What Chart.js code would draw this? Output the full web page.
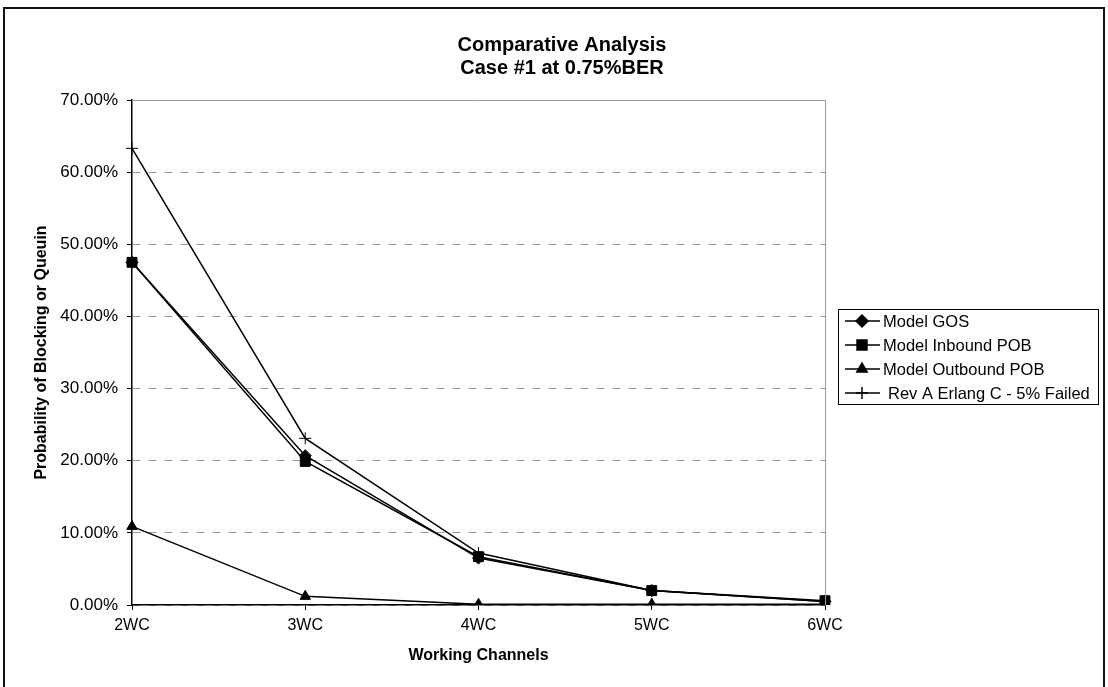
<!DOCTYPE html>
<html>
<head>
<meta charset="utf-8">
<script src="https://cdn.jsdelivr.net/npm/chart.js@4.4.1/dist/chart.umd.min.js"></script>
<style>
  html, body { margin: 0; padding: 0; background: #fff; }
  #wrap { width: 1108px; height: 687px; }
</style>
</head>
<body>
<div id="wrap"><canvas id="chart" width="1108" height="687"></canvas></div>
<script>
// data
const channels = ['2WC', '3WC', '4WC', '5WC', '6WC'];
const modelGos = [47.5, 20.7, 6.5, 2.0, 0.5];
const inboundPob = [47.5, 19.9, 6.7, 2.0, 0.6];
const outboundPob = [10.9, 1.2, 0.1, 0.1, 0.1];
const erlangC = [63.3, 23.1, 7.2, 2.0, 0.5];
const seriesNames = ['Model GOS', 'Model Inbound POB', 'Model Outbound POB', 'Rev A Erlang C - 5% Failed'];
const yMax = 70;
const yStep = 10;

const FONT = "'Liberation Sans', Arial, sans-serif";

function makeSet(label, data, style, radius) {
    return {
        label: label,
        data: data,
        borderColor: '#000',
        backgroundColor: '#000',
        borderWidth: 1.5,
        pointStyle: style,
        pointRadius: radius,
        pointHoverRadius: radius,
        pointBackgroundColor: '#000',
        pointBorderColor: '#000',
        pointBorderWidth: 1,
        tension: 0,
        fill: false
    };
}

// frame, plot border and a legend drawn like the original (line + marker)
const framePlugin = {
    id: 'frame',
    afterDraw(chart) {
        const ctx = chart.ctx;
        const a = chart.chartArea;
        ctx.save();
        // plot area top/right edges
        ctx.strokeStyle = '#9a9a9a';
        ctx.lineWidth = 1;
        ctx.beginPath();
        ctx.moveTo(a.left, a.top + 0.5);
        ctx.lineTo(a.right + 0.5, a.top + 0.5);
        ctx.lineTo(a.right + 0.5, a.bottom);
        ctx.stroke();

        // outer chart border
        ctx.strokeStyle = '#111';
        ctx.lineWidth = 2;
        ctx.strokeRect(4, 8, 1100, 690);

        // legend
        const lx = 838, ly = 309, lw = 260, lh = 95;
        ctx.fillStyle = '#fff';
        ctx.fillRect(lx, ly, lw, lh);
        ctx.strokeStyle = '#000';
        ctx.lineWidth = 1;
        ctx.strokeRect(lx + 0.5, ly + 0.5, lw, lh);
        ctx.font = '16.5px ' + FONT;
        ctx.textBaseline = 'middle';
        ctx.textAlign = 'left';
        chart.data.datasets.forEach((ds, i) => {
            const y = ly + 12 + i * 24;
            ctx.strokeStyle = '#000';
            ctx.lineWidth = 1.5;
            ctx.beginPath();
            ctx.moveTo(845, y);
            ctx.lineTo(880, y);
            ctx.stroke();
            ctx.fillStyle = '#000';
            Chart.helpers.drawPoint(ctx, {
                pointStyle: ds.pointStyle,
                radius: ds.pointRadius,
                borderWidth: 1,
                rotation: 0
            }, 862, y);
            if (ds.pointStyle !== 'cross') ctx.fill();
            ctx.fillText(ds.label, ds.pointStyle === 'cross' ? 888 : 883, y + 1);
        });
        ctx.restore();
    }
};

const ctx = document.getElementById('chart').getContext('2d');
const chart = new Chart(ctx, {
    type: 'line',
    data: {
        labels: channels,
        datasets: [
            makeSet(seriesNames[0], modelGos, 'rectRot', 6),
            makeSet(seriesNames[1], inboundPob, 'rect', 7),
            makeSet(seriesNames[2], outboundPob, 'triangle', 6),
            makeSet(seriesNames[3], erlangC, 'cross', 6)
        ]
    },
    options: {
        responsive: false,
        animation: false,
        devicePixelRatio: 1,
        layout: { padding: { left: 30, right: 14, top: 0, bottom: 14 } },
        plugins: {
            legend: { display: false },
            tooltip: { enabled: false },
            title: {
                display: true,
                text: ['Comparative Analysis', 'Case #1 at 0.75%BER'],
                color: '#000',
                font: { family: FONT, size: 20, weight: 'bold', lineHeight: 1.15 },
                padding: { top: 34, bottom: 20 }
            }
        },
        scales: {
            x: {
                offset: false,
                grid: {
                    drawOnChartArea: false,
                    drawTicks: true,
                    tickLength: 5,
                    tickColor: '#000'
                },
                border: { display: true, color: '#000', width: 1.5 },
                ticks: {
                    color: '#000',
                    font: { family: FONT, size: 16 },
                    padding: 6,
                    maxRotation: 0
                },
                title: {
                    display: true,
                    text: 'Working Channels',
                    color: '#000',
                    font: { family: FONT, size: 16, weight: 'bold' },
                    padding: { top: 4, bottom: 8 }
                },
                afterFit(scale) { scale.height = 68; }
            },
            y: {
                min: 0,
                max: yMax,
                grid: {
                    color: '#9a9a9a',
                    lineWidth: 1,
                    drawTicks: true,
                    tickLength: 5,
                    tickColor: '#000'
                },
                border: { display: true, color: '#000', width: 1.5, dash: [8, 8] },
                ticks: {
                    stepSize: yStep,
                    color: '#000',
                    font: { family: FONT, size: 17 },
                    padding: 9,
                    callback: v => v.toFixed(2) + '%'
                },
                title: {
                    display: true,
                    text: 'Probability of Blocking or Queuin',
                    color: '#000',
                    font: { family: FONT, size: 16, weight: 'bold' },
                    padding: { top: 2, bottom: 4 }
                },
                afterFit(scale) { scale.width = 102; }
            },
            yr: {
                position: 'right',
                display: true,
                grid: { display: false },
                border: { display: false },
                ticks: { display: false },
                afterFit(scale) { scale.width = 269; }
            }
        }
    },
    plugins: [framePlugin]
});
</script>
</body>
</html>
